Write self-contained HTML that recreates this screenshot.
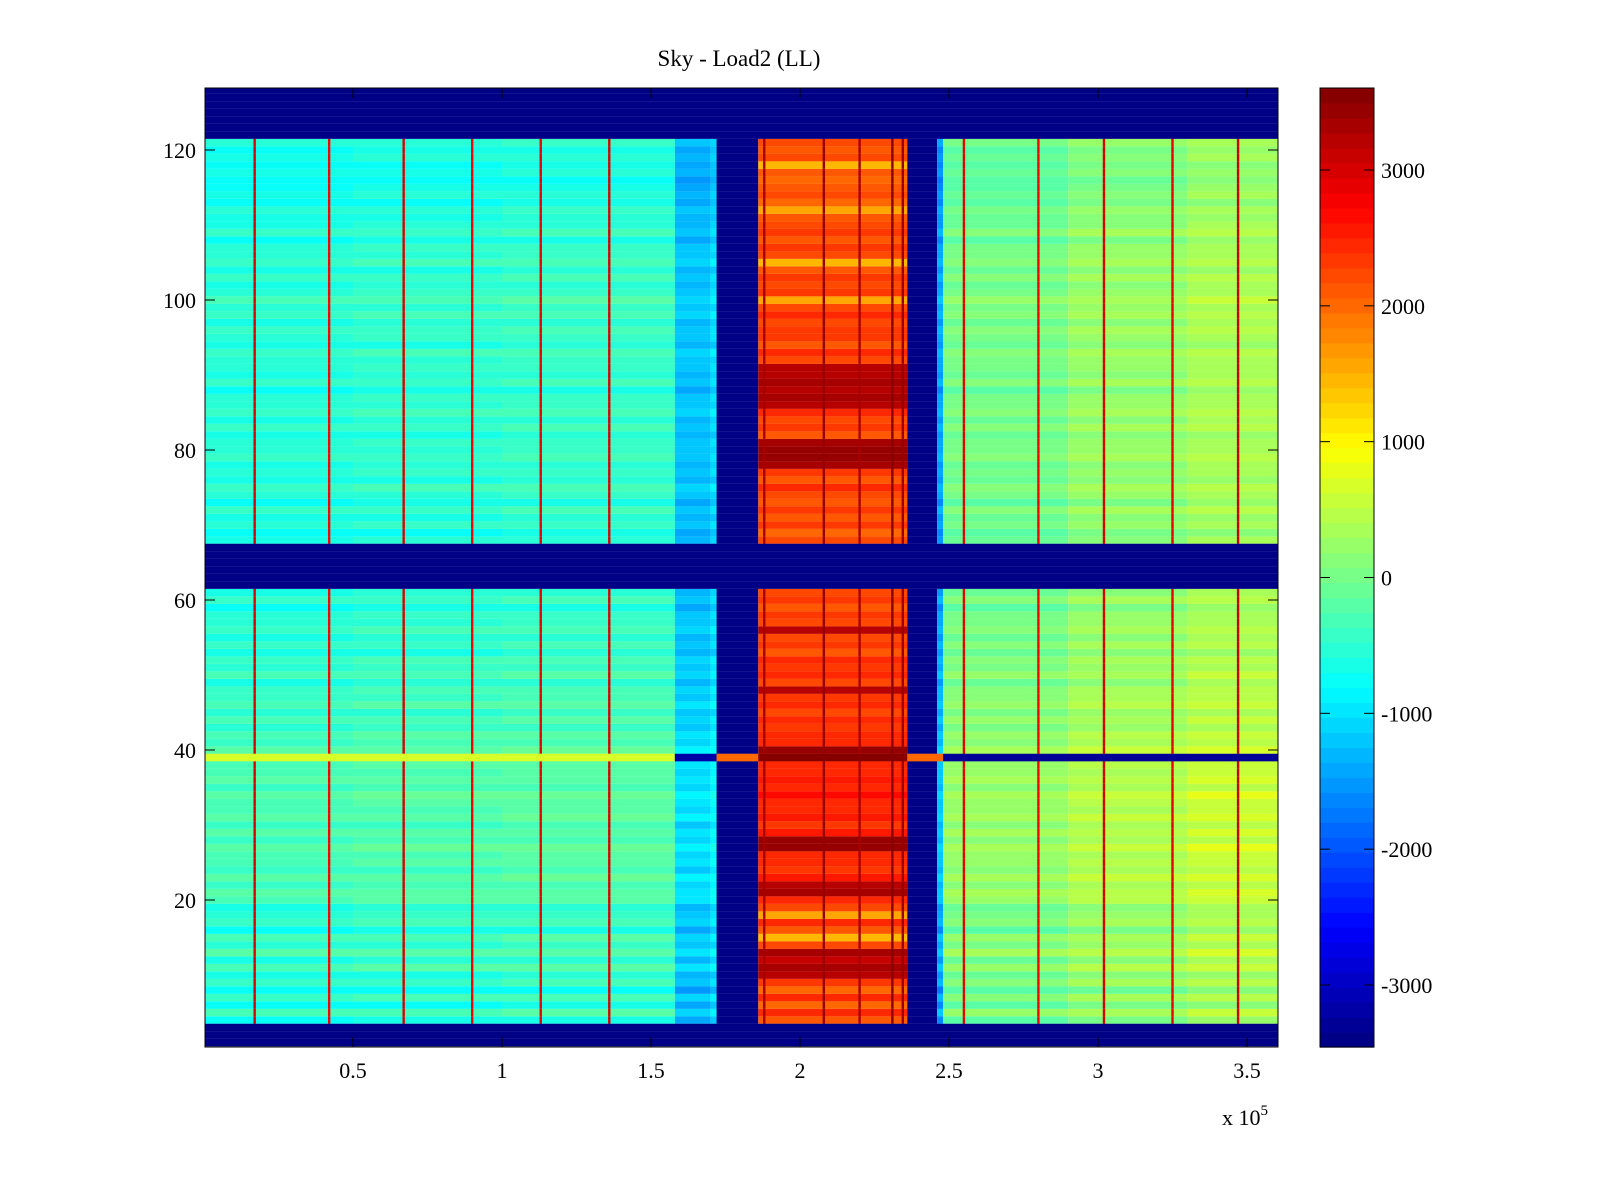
<!DOCTYPE html>
<html><head><meta charset="utf-8"><title>Sky - Load2 (LL)</title>
<style>
html,body{margin:0;padding:0;background:#fff;}
svg{display:block;font-family:"Liberation Serif",serif;}
</style></head>
<body>
<svg id="chart" width="1600" height="1200" viewBox="0 0 1600 1200">
  <rect x="0" y="0" width="1600" height="1200" fill="#fff"/>
  <text x="739" y="66" text-anchor="middle" font-size="23">Sky - Load2 (LL)</text>
  <defs><clipPath id="plotclip"><rect x="205" y="88" width="1073" height="959"/></clipPath></defs>
  <g id="cells" clip-path="url(#plotclip)"></g>
  <rect x="205" y="88" width="1073" height="959" fill="none" stroke="#000" stroke-width="1"/>
  <g id="axes"></g>
  <text x="1222" y="1125" font-size="22">x 10<tspan dy="-10" font-size="15">5</tspan></text>
  <g id="cbar"></g>
</svg>
<script>
// ---- data ----
const xTicks = [0.5, 1, 1.5, 2, 2.5, 3, 3.5];
const xTickLabels = ["0.5", "1", "1.5", "2", "2.5", "3", "3.5"];
const yTicks = [20, 40, 60, 80, 100, 120];
const cTicks = [-3000, -2000, -1000, 0, 1000, 2000, 3000];
const cMin = -3457, cMax = 3604;
const segStarts = [0, 0.5, 1.0, 1.58, 1.70, 1.72, 1.86, 2.36, 2.46, 2.48, 2.9, 3.3];
const segEnds   = [0.5, 1.0, 1.58, 1.70, 1.72, 1.86, 2.36, 2.46, 2.48, 2.9, 3.3, 3.61];
const segValues = [-500, -450, -400, -1200, -1000, -3457, 2300, -3457, -1400, 50, 250, 400];
const rowOffsets = [0,0,0,
 -200,150,-250,100,-300,50,-150,
 200,-100,250,-50,150,-200,100,0,-100,200,
 250,100,300,50,200,150,350,100,250,50,
 300,150,200,350,100,250,150,200,
 0,300,
 100,200,0,150,-50,200,50,100,-100,150,
 0,100,-150,50,-100,100,-50,0,-200,50,-100,
 0,0,0,0,0,0,
 -100,-250,0,-150,50,-200,-50,100,-150,0,-100,50,-50,
 0,-150,50,-100,100,-50,0,-200,50,-100,
 0,-50,100,-150,0,50,-100,100,-50,150,
 0,-100,50,-150,100,-50,0,-200,50,-100,
 -150,-50,-250,-100,-200,-300,-150,-250,-100,-200,-50,
 0,0,0,0,0,0,0];
const blockedRows = [1,2,3,62,63,64,65,66,67,122,123,124,125,126,127,128];
const lineXs = [0.17, 0.42, 0.67, 0.90, 1.13, 1.36, 2.55, 2.80, 3.02, 3.25, 3.47];
const lineValues = [3000, 2800, 3000, 2800, 2900, 3000, 2900, 2800, 3000, 2900, 3100];
const redLineXs = [1.88, 2.08, 2.20, 2.31, 2.345];
const redLineValues = [3300, 3400, 3300, 3500, 3400];
const redRows = [10,11,12,13,21,22,27,28,40,48,56,78,79,80,81,86,87,88,89,90,91,15,18,100,105,112,118];
const redRowValues = [3200,3300,3100,3300,3300,3200,3400,3400,3400,3200,3200,3300,3400,3400,3300,3200,3300,3200,3300,3200,3200,1500,1600,1600,1500,1600,1500];
const row39Starts = [0, 1.58, 1.72, 1.86, 2.36, 2.48];
const row39Ends   = [1.58, 1.72, 1.86, 2.36, 2.48, 3.61];
const row39Values = [700, -3200, 2000, 3550, 2000, -3300];

// ---- scales ----
const X = v => 353 + (v - 0.5) * 298;
const Yc = r => 900 - (r - 20) * 7.5;
const CY = v => 170 - (v - 3000) * 0.13583;
function jet(v){
  let t = (v - cMin) / (cMax - cMin);
  let i = Math.max(0, Math.min(63, Math.floor(t * 64)));
  t = (i + 0.5) / 64;
  const c = x => Math.round(255 * Math.max(0, Math.min(1, x)));
  return `rgb(${c(1.5-Math.abs(4*t-3))},${c(1.5-Math.abs(4*t-2))},${c(1.5-Math.abs(4*t-1))})`;
}
const NS = "http://www.w3.org/2000/svg";
function mk(parent, tag, attrs){
  const el = document.createElementNS(NS, tag);
  for (const k in attrs) el.setAttribute(k, attrs[k]);
  parent.appendChild(el); return el;
}
const cells = document.getElementById('cells');
function cell(x0, x1, r, v, name){
  const el = mk(cells, 'rect', {x: X(x0), y: Yc(r) - 3.75, width: X(x1) - X(x0), height: 7.6, fill: jet(v)});
  
  
}
for (let r = 1; r <= 128; r++) {
  if (blockedRows.includes(r)) continue;
  for (let s = 0; s < segValues.length; s++) {
    let v = segValues[s];
    if (v > cMin + 50) v += rowOffsets[r-1];
    if (s === 6) { const k = redRows.indexOf(r); if (k >= 0) v = redRowValues[k]; }
    cell(segStarts[s], segEnds[s], r, v, 'heat-cell');
  }
  for (let i = 0; i < lineXs.length; i++) cell(lineXs[i] - 0.004, lineXs[i] + 0.004, r, lineValues[i], 'hot-line-cell');
  for (let i = 0; i < redLineXs.length; i++) cell(redLineXs[i] - 0.004, redLineXs[i] + 0.004, r, redLineValues[i], 'red-line-cell');
}
for (let s = 0; s < row39Values.length; s++) cell(row39Starts[s], row39Ends[s], 39, row39Values[s], 'row39-cell');
blockedRows.forEach(r => cell(0, 3.61, r, cMin, 'blocked-row-cell'));

// ---- axes ----
const axes = document.getElementById('axes');
xTicks.forEach((t, i) => {
  const x = X(t);
  let l = mk(axes, 'line', {x1: x, y1: 1047, x2: x, y2: 1037, stroke: '#000'});
   
  l = mk(axes, 'line', {x1: x, y1: 88, x2: x, y2: 98, stroke: '#000'});
   
  const tx = mk(axes, 'text', {x: x, y: 1078, 'text-anchor': 'middle', 'font-size': 22});
  tx.textContent = xTickLabels[i];
   
});
yTicks.forEach(t => {
  const y = Yc(t);
  let l = mk(axes, 'line', {x1: 205, y1: y, x2: 215, y2: y, stroke: '#000'});
   
  l = mk(axes, 'line', {x1: 1278, y1: y, x2: 1268, y2: y, stroke: '#000'});
   
  const tx = mk(axes, 'text', {x: 196, y: y + 8, 'text-anchor': 'end', 'font-size': 22});
  tx.textContent = String(t);
   
});

// ---- colorbar ----
const cbar = document.getElementById('cbar');
for (let i = 0; i < 64; i++) {
  const v0 = cMin + (cMax - cMin) * i / 64, v1 = cMin + (cMax - cMin) * (i + 1) / 64;
  const r = mk(cbar, 'rect', {x: 1320, y: CY(v1), width: 54, height: CY(v0) - CY(v1) + 0.6, fill: jet((v0 + v1) / 2)});
   
}
const fr = mk(cbar, 'rect', {x: 1320, y: 88, width: 54, height: 959, fill: 'none', stroke: '#000'});
 
cTicks.forEach(t => {
  const y = CY(t);
  let l = mk(cbar, 'line', {x1: 1320, y1: y, x2: 1330, y2: y, stroke: '#000'});
   
  l = mk(cbar, 'line', {x1: 1374, y1: y, x2: 1364, y2: y, stroke: '#000'});
   
  const tx = mk(cbar, 'text', {x: 1381, y: y + 8, 'font-size': 22});
  tx.textContent = String(t);
   
});
</script>
</body></html>
